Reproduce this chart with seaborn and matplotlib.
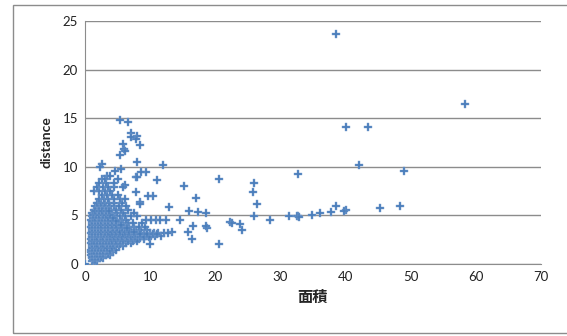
import numpy as np
import pandas as pd
import seaborn as sns
import matplotlib.pyplot as plt
from matplotlib.patches import Rectangle

# isolated points (面積, distance)
outlier_x = [38.5, 58.3, 40.1, 43.5, 42.0, 48.9, 32.7, 45.3, 48.3, 38.5, 40.0, 39.8,
             37.8, 36.1, 34.8, 32.7, 32.5, 32.9, 31.3, 28.4, 26.0, 26.4, 25.8, 26.0,
             20.5, 20.5, 24.1, 23.8, 22.3, 22.6, 18.7, 18.5, 18.5, 17.3, 17.0, 16.4,
             16.6, 15.9, 15.8, 15.2, 14.6, 13.3, 12.9, 12.5, 11.9, 11.1, 10.5, 9.6,
             10.0, 9.3, 8.6, 8.5, 8.0, 7.8, 8.0, 7.8, 8.0, 8.4, 8.5, 7.8, 7.0, 7.0,
             6.55, 5.3, 5.8, 6.0, 6.2, 5.3, 5.55, 4.66, 2.55, 2.33, 6.2, 5.9, 0.0]
outlier_y = [23.7, 16.46, 14.1, 14.1, 10.2, 9.57, 9.26, 5.8, 5.93, 5.93, 5.6, 5.45,
             5.38, 5.25, 5.1, 4.9, 4.9, 4.85, 4.97, 4.5, 4.9, 6.17, 7.44, 8.3,
             8.75, 2.02, 3.53, 4.15, 4.32, 4.2, 3.7, 3.95, 5.25, 5.35, 6.75, 2.6,
             3.95, 5.45, 3.33, 8.06, 4.5, 3.33, 5.83, 4.53, 10.19, 8.6, 6.96, 6.96,
             2.02, 9.46, 9.46, 12.24, 13.2, 12.86, 10.5, 9.0, 8.95, 6.4, 6.2, 7.37, 13.5, 13.1,
             14.57, 14.78, 12.3, 11.8, 11.6, 11.25, 9.74, 9.57, 10.25, 9.98, 8.1, 7.9, 0.0]

# dense cluster, read row by row (distance level -> 面積 values)
row_y = [0.3, 0.6, 0.9, 1.2, 1.5, 1.85, 2.2, 2.55, 2.9, 3.2, 3.5, 3.85, 4.2, 4.55,
         4.9, 5.25, 5.6, 5.95, 6.3, 6.7, 7.1, 7.5, 7.9, 8.3, 8.8, 9.1]
row_x = [
    [1.1, 1.5, 1.9],
    [1.0, 1.4, 1.8, 2.3, 2.8],
    [0.9, 1.3, 1.7, 2.1, 2.6, 3.2, 3.9],
    [0.9, 1.2, 1.6, 2.0, 2.5, 3.0, 3.5, 4.3],
    [0.9, 1.3, 1.7, 2.2, 2.7, 3.1, 3.6, 4.1, 4.8],
    [1.0, 1.4, 1.8, 2.3, 2.8, 3.3, 3.9, 4.5, 5.2, 5.8],
    [0.9, 1.3, 1.7, 2.1, 2.6, 3.0, 3.5, 4.0, 4.6, 5.1, 5.7, 6.3, 7.0],
    [0.9, 1.2, 1.6, 2.0, 2.4, 2.9, 3.4, 3.9, 4.4, 5.0, 5.6, 6.2, 6.9, 7.6, 8.3, 9.0],
    [1.0, 1.4, 1.8, 2.2, 2.7, 3.2, 3.7, 4.2, 4.8, 5.4, 6.0, 6.7, 7.3, 8.0, 8.7, 9.4,
     10.1, 10.8, 11.6],
    [0.9, 1.3, 1.7, 2.1, 2.6, 3.1, 3.5, 4.0, 4.5, 5.1, 5.8, 6.5, 7.2, 8.1, 9.0, 9.9,
     10.6, 11.2, 12.1, 12.8],
    [1.0, 1.4, 1.8, 2.3, 2.8, 3.3, 3.8, 4.4, 5.0, 5.7, 6.4, 7.0, 7.8, 8.6, 9.5],
    [0.9, 1.3, 1.7, 2.2, 2.6, 3.0, 3.5, 4.1, 4.7, 5.3, 6.1, 6.8, 7.5, 8.3, 9.2],
    [1.0, 1.4, 1.8, 2.3, 2.8, 3.3, 3.8, 4.4, 5.0, 5.8, 6.6, 7.4, 8.8],
    [0.9, 1.3, 1.7, 2.2, 2.7, 3.2, 3.7, 4.3, 4.9, 5.6, 6.3, 9.3, 10.2, 10.9, 11.5],
    [1.0, 1.4, 1.9, 2.4, 2.9, 3.4, 4.0, 4.6, 5.4, 6.2, 7.1, 8.0],
    [1.1, 1.5, 2.0, 2.5, 3.0, 3.6, 4.2, 4.9, 5.8, 7.5],
    [1.3, 1.8, 2.3, 2.9, 3.4, 4.0, 4.7, 5.5, 6.6],
    [1.6, 2.1, 2.7, 3.2, 3.8, 4.5, 5.2, 6.3],
    [1.9, 2.5, 3.1, 3.7, 4.4, 5.6],
    [2.2, 2.9, 3.6, 4.4, 5.3, 6.1],
    [2.6, 3.3, 4.2, 5.0],
    [1.3, 2.2, 3.1, 3.9],
    [1.9, 2.8, 3.5, 4.4],
    [2.1, 3.2, 4.4],
    [2.6, 3.0, 5.0],
    [3.4, 3.9],
]

# in-between rows that fill the solid core of the cluster
mid_y = [0.45, 0.75, 1.05, 1.35, 1.7, 2.05, 2.4, 2.75, 3.05, 3.35, 3.7, 4.05,
         4.4, 4.75, 5.1, 5.45]
mid_x = [
    [1.2, 1.6],
    [1.1, 1.5, 2.0, 2.5],
    [1.1, 1.5, 1.9, 2.3, 2.8, 3.5],
    [1.0, 1.4, 1.8, 2.3, 2.8, 3.3, 3.8],
    [1.1, 1.5, 2.0, 2.5, 2.9, 3.4, 4.2],
    [1.1, 1.5, 1.9, 2.4, 2.8, 3.3, 3.8, 4.3, 4.9, 5.4],
    [1.0, 1.4, 1.8, 2.3, 2.7, 3.2, 3.7, 4.2, 4.7, 5.3, 5.9, 6.6, 7.3, 8.0],
    [1.1, 1.5, 1.9, 2.4, 2.8, 3.3, 3.8, 4.5, 5.1, 5.7, 6.4, 7.0, 7.7, 8.4, 9.1, 9.8],
    [1.1, 1.5, 2.0, 2.4, 2.9, 3.4, 3.9, 4.6, 5.2, 5.9, 6.6, 7.6, 8.5, 9.5, 10.4, 11.0],
    [1.1, 1.6, 2.0, 2.5, 3.0, 3.6, 4.2, 4.8, 5.4, 6.1, 6.8, 7.5],
    [1.1, 1.5, 2.0, 2.5, 3.1, 3.6, 4.3, 4.9, 5.6, 6.5],
    [1.1, 1.6, 2.0, 2.5, 3.1, 3.6, 4.2, 4.8, 5.5],
    [1.1, 1.5, 2.0, 2.5, 3.0, 3.5, 4.1, 4.7],
    [1.2, 1.6, 2.1, 2.6, 3.1, 3.6, 4.3],
    [1.2, 1.7, 2.2, 2.7, 3.2, 3.9],
    [1.6, 2.1, 2.6, 3.2, 3.7],
]

area = list(outlier_x)
distance = list(outlier_y)
for yv, xs in zip(row_y + mid_y, row_x + mid_x):
    area += xs
    distance += [yv] * len(xs)
df = pd.DataFrame({"面積": area, "distance": distance})

sns.set_style("white")
plt.rcParams["font.family"] = ["Lato", "Noto Sans CJK JP", "DejaVu Sans"]

fig = plt.figure(figsize=(5.67, 3.36), dpi=100)
ax = fig.add_axes([0.150, 0.214, 0.804, 0.7235])
sns.scatterplot(data=df, x="面積", y="distance", ax=ax, marker="P", s=26,
                color="#4a7ebb", edgecolor="#7a9fd0", linewidth=0.3, zorder=3)

ax.set_xlim(0, 70)
ax.set_ylim(0, 25)
ax.set_xticks(range(0, 71, 10))
ax.set_yticks(range(0, 26, 5))
ax.yaxis.grid(True, color="#8c8c8c", linewidth=1)
ax.xaxis.grid(False)
for side in ["top", "right"]:
    ax.spines[side].set_visible(False)
for side in ["left", "bottom"]:
    ax.spines[side].set_color("#8c8c8c")
ax.tick_params(labelsize=9.5, colors="#222222", length=0, pad=5)
ax.set_xlabel("面積", fontsize=11, fontweight="bold",
              family=["Noto Sans CJK JP", "DejaVu Sans"], labelpad=4)
ax.set_ylabel("distance", fontsize=10, fontweight="bold", labelpad=7)

fig.patches.append(Rectangle((0.023, 0.009), 1.0, 0.976, transform=fig.transFigure,
                             fill=False, edgecolor="#8c8c8c", linewidth=1))

fig.savefig("out.png", dpi=100)
